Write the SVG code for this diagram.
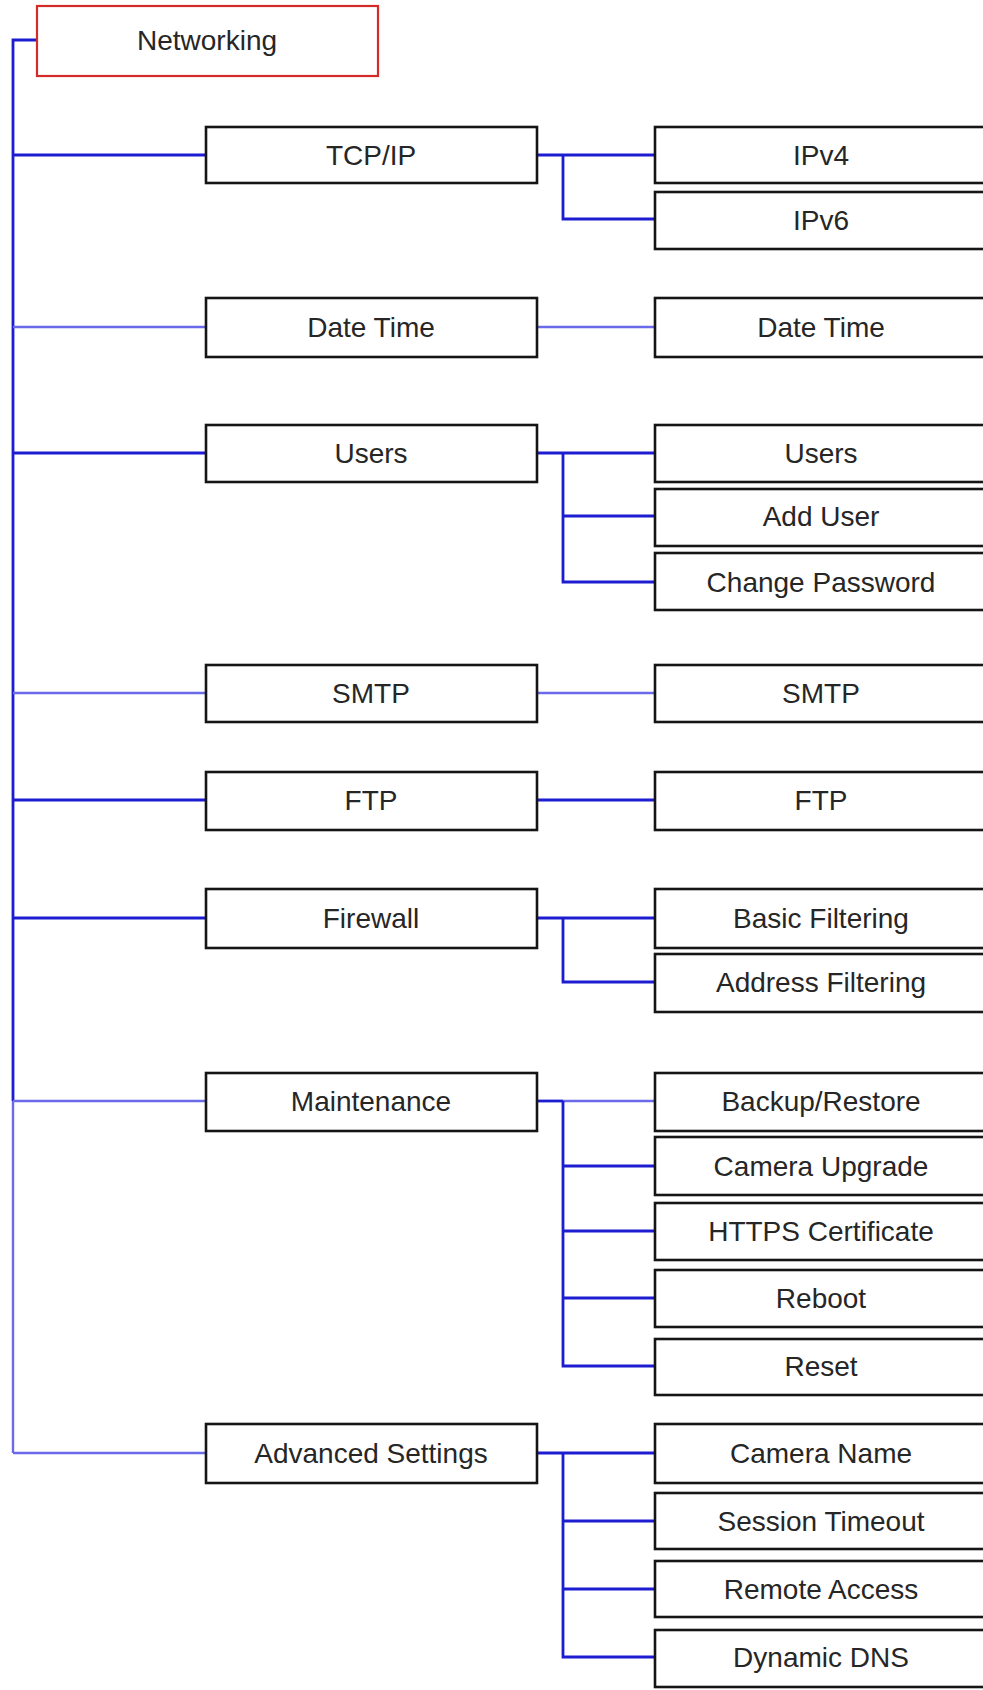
<svg xmlns="http://www.w3.org/2000/svg" width="983" height="1690" viewBox="0 0 983 1690">
<style>
.bx{fill:#fff;stroke:#151515;stroke-width:2.6}
.root{fill:#fff;stroke:#d42a2a;stroke-width:2.2}
.t{font-family:"Liberation Sans",Arial,sans-serif;font-size:28px;fill:#262626;text-anchor:middle}
.d{stroke:#1c1cd0;stroke-width:2.8;fill:none}
.l{stroke:#6a6aea;stroke-width:2.4;fill:none}
</style>
<rect width="983" height="1690" fill="#fff"/>
<g id="connectors">
  <path class="d" d="M37 40 H13 V1101"/>
  <path class="l" d="M13 1101 V1453"/>
  <path class="d" d="M13 155 H206"/>
  <path class="l" d="M13 327 H206"/>
  <path class="d" d="M13 453 H206"/>
  <path class="l" d="M13 693 H206"/>
  <path class="d" d="M13 800 H206"/>
  <path class="d" d="M13 918 H206"/>
  <path class="l" d="M13 1101 H206"/>
  <path class="l" d="M13 1453 H206"/>
  <path class="d" d="M537 155 H655 M563 155 V219 H655"/>
  <path class="l" d="M537 327 H655"/>
  <path class="d" d="M537 453 H655 M563 453 V582 H655 M563 516 H655"/>
  <path class="l" d="M537 693 H655"/>
  <path class="d" d="M537 800 H655"/>
  <path class="d" d="M537 918 H655 M563 918 V982 H655"/>
  <path class="d" d="M537 1101 H563"/>
  <path class="l" d="M563 1101 H655"/>
  <path class="d" d="M563 1101 V1366 H655 M563 1166 H655 M563 1231 H655 M563 1298 H655"/>
  <path class="d" d="M537 1453 H655 M563 1453 V1657 H655 M563 1521 H655 M563 1589 H655"/>
</g>
<g id="networking"><rect class="root" x="37" y="6" width="341" height="70"/><text class="t" x="207" y="50">Networking</text></g>
<g id="tcpip"><rect class="bx" x="206" y="127" width="331" height="56"/><text class="t" x="371" y="165">TCP/IP</text></g>
<g id="datetime"><rect class="bx" x="206" y="298" width="331" height="59"/><text class="t" x="371" y="337">Date Time</text></g>
<g id="users"><rect class="bx" x="206" y="425" width="331" height="57"/><text class="t" x="371" y="463">Users</text></g>
<g id="smtp"><rect class="bx" x="206" y="665" width="331" height="57"/><text class="t" x="371" y="703">SMTP</text></g>
<g id="ftp"><rect class="bx" x="206" y="772" width="331" height="58"/><text class="t" x="371" y="810">FTP</text></g>
<g id="firewall"><rect class="bx" x="206" y="889" width="331" height="59"/><text class="t" x="371" y="928">Firewall</text></g>
<g id="maintenance"><rect class="bx" x="206" y="1073" width="331" height="58"/><text class="t" x="371" y="1111">Maintenance</text></g>
<g id="advanced"><rect class="bx" x="206" y="1424" width="331" height="59"/><text class="t" x="371" y="1463">Advanced Settings</text></g>
<g id="ipv4"><rect class="bx" x="655" y="127" width="345" height="56"/><text class="t" x="821" y="165">IPv4</text></g>
<g id="ipv6"><rect class="bx" x="655" y="192" width="345" height="57"/><text class="t" x="821" y="230">IPv6</text></g>
<g id="datetime2"><rect class="bx" x="655" y="298" width="345" height="59"/><text class="t" x="821" y="337">Date Time</text></g>
<g id="users2"><rect class="bx" x="655" y="425" width="345" height="57"/><text class="t" x="821" y="463">Users</text></g>
<g id="adduser"><rect class="bx" x="655" y="489" width="345" height="57"/><text class="t" x="821" y="526">Add User</text></g>
<g id="changepw"><rect class="bx" x="655" y="553" width="345" height="57"/><text class="t" x="821" y="592">Change Password</text></g>
<g id="smtp2"><rect class="bx" x="655" y="665" width="345" height="57"/><text class="t" x="821" y="703">SMTP</text></g>
<g id="ftp2"><rect class="bx" x="655" y="772" width="345" height="58"/><text class="t" x="821" y="810">FTP</text></g>
<g id="basicfilter"><rect class="bx" x="655" y="889" width="345" height="59"/><text class="t" x="821" y="928">Basic Filtering</text></g>
<g id="addrfilter"><rect class="bx" x="655" y="954" width="345" height="58"/><text class="t" x="821" y="992">Address Filtering</text></g>
<g id="backup"><rect class="bx" x="655" y="1073" width="345" height="58"/><text class="t" x="821" y="1111">Backup/Restore</text></g>
<g id="upgrade"><rect class="bx" x="655" y="1137" width="345" height="58"/><text class="t" x="821" y="1176">Camera Upgrade</text></g>
<g id="https"><rect class="bx" x="655" y="1203" width="345" height="57"/><text class="t" x="821" y="1241">HTTPS Certificate</text></g>
<g id="reboot"><rect class="bx" x="655" y="1270" width="345" height="57"/><text class="t" x="821" y="1308">Reboot</text></g>
<g id="reset"><rect class="bx" x="655" y="1339" width="345" height="56"/><text class="t" x="821" y="1376">Reset</text></g>
<g id="camname"><rect class="bx" x="655" y="1424" width="345" height="59"/><text class="t" x="821" y="1463">Camera Name</text></g>
<g id="session"><rect class="bx" x="655" y="1493" width="345" height="56"/><text class="t" x="821" y="1531">Session Timeout</text></g>
<g id="remote"><rect class="bx" x="655" y="1561" width="345" height="56"/><text class="t" x="821" y="1599">Remote Access</text></g>
<g id="ddns"><rect class="bx" x="655" y="1630" width="345" height="57"/><text class="t" x="821" y="1667">Dynamic DNS</text></g>
</svg>
